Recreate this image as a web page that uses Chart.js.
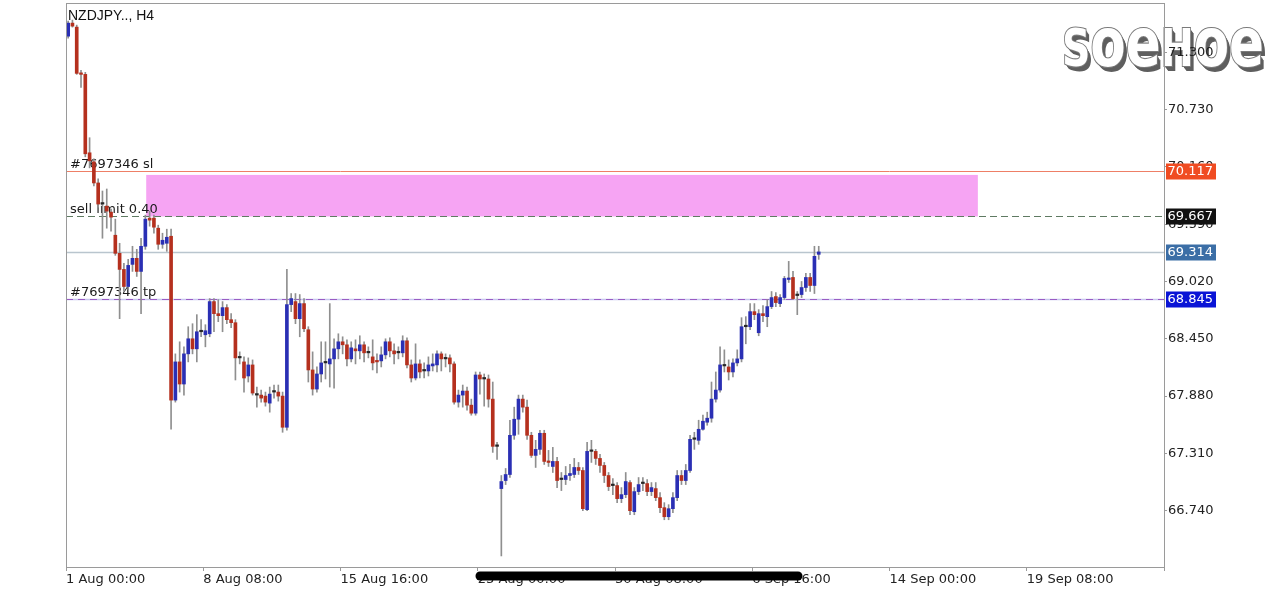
<!DOCTYPE html>
<html>
<head>
<meta charset="utf-8">
<script src="https://cdn.jsdelivr.net/npm/chart.js@4.4.1/dist/chart.umd.min.js"></script>
<style>
  html, body { margin: 0; padding: 0; background: #ffffff; }
  #wrap { position: relative; width: 1280px; height: 591px; }
</style>
</head>
<body>
<div id="wrap"><canvas id="c"></canvas></div>
<script>
// ---------- DATA ----------
const symbolTitle = 'NZDJPY.., H4';
const tickLabels = ['1 Aug 00:00', '8 Aug 08:00', '15 Aug 16:00', '23 Aug 00:00', '30 Aug 08:00', '6 Sep 16:00', '14 Sep 00:00', '19 Sep 08:00', ''];
const priceTicks = [66.740, 67.310, 67.880, 68.450, 69.020, 69.590, 70.160, 70.730, 71.300];

const openP = [
71.46,71.59,71.55,71.09,71.08,70.30,70.21,70.00,69.79,69.77,
69.71,69.48,69.30,69.14,68.97,69.19,69.25,69.12,69.37,69.65,
69.65,69.55,69.39,69.40,69.47,67.84,68.22,68.00,68.30,68.45,
68.35,68.52,68.49,68.50,68.82,68.70,68.68,68.76,68.64,68.61,
68.26,68.22,68.08,68.19,67.89,67.89,67.88,67.81,67.92,67.92,
67.88,67.57,68.79,68.82,68.65,68.80,68.54,68.14,67.95,68.10,
68.21,68.20,68.25,68.35,68.42,68.39,68.25,68.35,68.33,68.39,
68.31,68.27,68.23,68.23,68.29,68.42,68.33,68.31,68.31,68.43,
68.19,68.06,68.20,68.13,68.13,68.18,68.19,68.30,68.25,68.26,
68.20,67.82,67.89,67.93,67.79,67.71,68.09,68.05,68.05,67.85,
67.38,66.96,67.04,67.10,67.49,67.65,67.85,67.77,67.49,67.29,
67.35,67.51,67.23,67.18,67.23,67.05,67.05,67.09,67.10,67.17,
67.14,66.75,67.33,67.33,67.26,67.19,67.09,66.99,66.99,66.86,
66.90,67.02,66.73,66.93,67.01,67.01,66.93,66.96,66.87,66.77,
66.68,66.76,66.87,67.09,67.04,67.14,67.45,67.44,67.55,67.62,
67.66,67.85,67.94,68.18,68.17,68.12,68.21,68.25,68.57,68.57,
68.72,68.51,68.70,68.67,68.77,68.87,68.80,68.86,69.04,69.06,
68.88,68.89,68.96,69.06,68.98,69.29];

const highP = [
71.61,71.62,71.57,71.12,71.10,70.45,70.24,70.04,69.92,69.94,
69.74,69.64,69.40,69.20,69.24,69.37,69.34,69.45,69.68,69.72,
69.68,69.58,69.50,69.54,69.54,68.30,68.42,68.37,68.57,68.60,
68.69,68.64,68.59,68.85,68.85,68.84,68.82,68.79,68.70,68.64,
68.32,68.27,68.26,68.24,67.97,67.94,67.92,67.97,67.99,67.99,
67.92,69.14,68.90,68.90,68.89,68.85,68.57,68.32,68.17,68.42,
68.42,68.80,68.45,68.50,68.47,68.44,68.42,68.44,68.48,68.42,
68.37,68.44,68.30,68.37,68.45,68.46,68.40,68.37,68.48,68.46,
68.24,68.40,68.24,68.21,68.27,68.30,68.33,68.32,68.30,68.29,
68.22,67.94,67.99,67.97,67.85,68.12,68.12,68.10,68.09,68.02,
67.42,67.09,67.16,67.64,67.77,67.89,67.89,67.84,67.52,67.44,
67.54,67.54,67.34,67.37,67.27,67.12,67.18,67.20,67.26,67.22,
67.17,67.42,67.44,67.35,67.30,67.22,67.12,67.06,67.02,66.97,
67.12,67.04,66.97,67.07,67.07,67.05,67.02,67.02,66.92,66.82,
66.80,66.92,67.14,67.14,67.20,67.49,67.52,67.64,67.69,67.72,
68.02,68.12,68.37,68.34,68.24,68.25,68.34,68.66,68.67,68.80,
68.80,68.74,68.78,68.84,68.92,68.91,68.89,69.07,69.22,69.12,
68.92,69.02,69.10,69.10,69.37,69.37];

const lowP = [
71.44,71.55,71.08,70.95,70.26,70.15,69.97,69.76,69.45,69.55,
69.52,69.28,68.65,68.92,68.94,69.12,69.07,68.70,69.34,69.57,
69.50,69.34,69.35,69.32,67.55,67.82,67.92,67.89,68.22,68.30,
68.22,68.47,68.37,68.47,68.52,68.62,68.52,68.60,68.56,68.04,
68.20,67.92,68.02,67.89,67.77,67.82,67.78,67.72,67.86,67.83,
67.52,67.54,68.72,68.60,68.47,68.52,68.02,67.89,67.92,68.02,
68.05,67.97,67.96,68.25,68.30,68.18,68.22,68.20,68.25,68.22,
68.26,68.14,68.11,68.17,68.25,68.27,68.20,68.25,68.27,68.16,
68.02,68.04,68.06,68.06,68.08,68.13,68.12,68.13,68.17,68.12,
67.80,67.77,67.77,67.74,67.69,67.69,67.90,67.78,67.77,67.32,
67.25,66.29,67.00,67.07,67.45,67.50,67.72,67.45,67.27,67.17,
67.30,67.20,67.18,67.12,66.97,66.94,67.00,67.04,67.07,67.10,
66.74,66.74,67.22,67.20,67.12,67.02,66.94,66.90,66.82,66.82,
66.87,66.70,66.70,66.90,66.94,66.89,66.89,66.84,66.72,66.65,
66.65,66.72,66.84,67.00,67.00,67.12,67.35,67.40,67.54,67.59,
67.62,67.82,67.92,68.12,68.04,68.07,68.18,68.22,68.40,68.54,
68.64,68.48,68.62,68.57,68.75,68.77,68.77,68.84,69.01,68.84,
68.69,68.86,68.92,68.92,68.90,69.24];

const closeP = [
71.59,71.56,71.09,71.08,70.29,70.22,70.00,69.79,69.79,69.72,
69.66,69.30,69.14,68.97,69.18,69.25,69.12,69.37,69.64,69.63,
69.56,69.39,69.43,69.46,67.84,68.22,68.00,68.30,68.45,68.35,
68.52,68.52,68.53,68.82,68.70,68.68,68.76,68.64,68.61,68.26,
68.26,68.06,68.19,67.91,67.89,67.86,67.82,67.90,67.92,67.88,
67.57,68.79,68.85,68.65,68.80,68.55,68.14,67.95,68.10,68.21,
68.21,68.25,68.35,68.42,68.39,68.25,68.36,68.33,68.39,68.31,
68.31,68.21,68.22,68.29,68.42,68.33,68.30,68.31,68.43,68.19,
68.06,68.20,68.12,68.13,68.19,68.20,68.30,68.25,68.25,68.20,
67.82,67.89,67.93,67.79,67.71,68.09,68.05,68.05,67.85,67.38,
67.38,67.03,67.10,67.49,67.65,67.85,67.77,67.49,67.29,67.35,
67.51,67.23,67.22,67.23,67.04,67.05,67.09,67.11,67.17,67.14,
66.76,67.33,67.33,67.26,67.19,67.09,66.98,66.99,66.86,66.90,
67.03,66.74,66.93,67.00,67.01,66.93,66.97,66.87,66.77,66.68,
66.76,66.87,67.09,67.04,67.14,67.45,67.45,67.55,67.63,67.66,
67.85,67.94,68.19,68.18,68.12,68.21,68.25,68.57,68.57,68.72,
68.69,68.70,68.68,68.77,68.86,68.81,68.86,69.05,69.05,68.85,
68.88,68.96,69.06,68.98,69.27,69.314];

// order levels: stop loss, sell limit, current bid, take profit
const levelValues = [70.117, 69.667, 69.314, 68.845];
const levelTags = ['70.117', '69.667', '69.314', '68.845'];
const levelNames = ['#7697346 sl', 'sell limit 0.40', '', '#7697346 tp'];
// pending-order zone (bar index range and price range)
const zoneBars = [18.2, 212.1];
const zonePrices = [70.08, 69.667];
const totalBars = 256;

// ---------- BUILD ----------
const wickData = highP.map((h, i) => ({ x: i, y: [lowP[i], h] }));
const bodyData = openP.map((o, i) => ({ x: i, y: [o, closeP[i]] }));
const bodyColors = openP.map((o, i) => closeP[i] > o ? '#2a2fb4' : (closeP[i] < o ? '#b5301e' : '#262626'));

Chart.defaults.font.family = '"DejaVu Sans", sans-serif';
Chart.defaults.color = '#222';

const FRAME = '#9a9a9a';

const overlay = {
  id: 'overlay',
  beforeDraw(chart) {
    const ctx = chart.ctx;
    ctx.save();
    const letters = [['S', 52], ['o', 68], ['e', 68], ['H', 52], ['o', 68], ['e', 68]];
    let widths = letters.map(([ch, sz]) => { ctx.font = 'bold ' + sz + 'px "DejaVu Sans"'; return ctx.measureText(ch).width; });
    const total = widths.reduce((a, b) => a + b, 0);
    const sx = 202 / total;
    ctx.translate(1062, 66);
    ctx.scale(sx, 1);
    let xx = 0;
    letters.forEach(([ch, sz], k) => {
      ctx.font = 'bold ' + sz + 'px "DejaVu Sans"';
      ctx.fillStyle = '#5e5e5e';
      for (let d = 1; d <= 5; d++) ctx.fillText(ch, xx + (d * 0.7) / sx, d);
      ctx.lineWidth = 2.2;
      ctx.strokeStyle = '#7a7a7a';
      ctx.strokeText(ch, xx, 0);
      ctx.fillStyle = '#ffffff';
      ctx.fillText(ch, xx, 0);
      xx += widths[k];
    });
    ctx.restore();
  },
  beforeDatasetsDraw(chart) {
    const { ctx, chartArea: a, scales: { x, y } } = chart;
    ctx.save();
    ctx.beginPath();
    ctx.rect(a.left, a.top, a.right - a.left, a.bottom - a.top);
    ctx.clip();
    const zx1 = x.getPixelForValue(zoneBars[0]), zx2 = x.getPixelForValue(zoneBars[1]);
    const zy1 = y.getPixelForValue(zonePrices[0]), zy2 = y.getPixelForValue(zonePrices[1]);
    ctx.fillStyle = '#f6a4f3';
    ctx.fillRect(zx1, zy1, zx2 - zx1, zy2 - zy1);
    const py = v => Math.round(y.getPixelForValue(v)) + 0.5;
    ctx.strokeStyle = '#ee7f66'; ctx.lineWidth = 1; ctx.setLineDash([]);
    ctx.beginPath(); ctx.moveTo(a.left, py(levelValues[0])); ctx.lineTo(a.right, py(levelValues[0])); ctx.stroke();
    ctx.strokeStyle = '#5f7a62'; ctx.lineWidth = 1.2; ctx.setLineDash([7, 4]);
    ctx.beginPath(); ctx.moveTo(a.left, py(levelValues[1])); ctx.lineTo(a.right, py(levelValues[1])); ctx.stroke();
    ctx.strokeStyle = '#b9c5ce'; ctx.lineWidth = 1.6; ctx.setLineDash([]);
    ctx.beginPath(); ctx.moveTo(a.left, py(levelValues[2])); ctx.lineTo(a.right, py(levelValues[2])); ctx.stroke();
    ctx.strokeStyle = '#c6c6ee'; ctx.lineWidth = 1.5; ctx.setLineDash([]);
    ctx.beginPath(); ctx.moveTo(a.left, py(levelValues[3])); ctx.lineTo(a.right, py(levelValues[3])); ctx.stroke();
    ctx.strokeStyle = '#9a5cc4'; ctx.lineWidth = 1.2; ctx.setLineDash([7, 5]);
    ctx.beginPath(); ctx.moveTo(a.left, py(levelValues[3])); ctx.lineTo(a.right, py(levelValues[3])); ctx.stroke();
    ctx.setLineDash([]);
    ctx.fillStyle = '#1a1a1a';
    ctx.font = '13px "DejaVu Sans"';
    ctx.textAlign = 'left'; ctx.textBaseline = 'alphabetic';
    levelNames.forEach((n, k) => { if (n) ctx.fillText(n, a.left + 4, py(levelValues[k]) - 3.5); });
    ctx.restore();
  },
  afterDraw(chart) {
    const { ctx, chartArea: a, scales: { y } } = chart;
    ctx.save();
    ctx.strokeStyle = FRAME; ctx.lineWidth = 1;
    ctx.strokeRect(Math.round(a.left) + 0.5, Math.round(a.top) - 0.5, Math.round(a.right - a.left), Math.round(a.bottom - a.top) + 1);
    ctx.fillStyle = '#111';
    ctx.font = '14px "Liberation Sans"';
    ctx.textAlign = 'left'; ctx.textBaseline = 'alphabetic';
    ctx.fillText(symbolTitle, a.left + 2, 19.5);
    const tagColors = ['#f04c22', '#111111', '#3b6ea6', '#0a14d6'];
    ctx.font = '13px "DejaVu Sans"';
    ctx.textBaseline = 'middle';
    levelValues.forEach((v, k) => {
      const cy = Math.round(y.getPixelForValue(v)) + 0.5;
      ctx.fillStyle = tagColors[k];
      ctx.fillRect(a.right + 2, cy - 8, 50, 16);
      ctx.fillStyle = '#ffffff';
      ctx.fillText(levelTags[k], a.right + 3.5, cy + 0.5);
    });
    ctx.strokeStyle = '#000'; ctx.lineCap = 'round'; ctx.lineWidth = 9;
    ctx.beginPath(); ctx.moveTo(480, 576); ctx.lineTo(798, 576); ctx.stroke();
    ctx.restore();
  }
};

new Chart(document.getElementById('c'), {
  type: 'bar',
  data: {
    datasets: [
      { label: 'body', data: bodyData, backgroundColor: bodyColors, borderWidth: 0, barThickness: 3, minBarLength: 1.5, grouped: false, order: 1 },
      { label: 'wick', data: wickData, backgroundColor: '#8f8f8f', borderWidth: 0, barThickness: 1, grouped: false, order: 2 }
    ]
  },
  options: {
    responsive: true,
    maintainAspectRatio: false,
    animation: false,
    events: [],
    layout: { padding: { left: 66, top: 4, right: 0, bottom: 0 } },
    plugins: { legend: { display: false }, tooltip: { enabled: false }, title: { display: false } },
    scales: {
      x: {
        type: 'linear',
        offset: false,
        min: -0.5,
        max: totalBars - 0.5,
        afterBuildTicks(s) { s.ticks = tickLabels.map((t, k) => ({ value: -0.5 + 32 * k })); },
        afterFit(s) { s.height = 24; s.paddingLeft = 0; s.paddingRight = 0; },
        grid: { drawOnChartArea: false, offset: false, tickLength: 4, color: FRAME },
        border: { display: true, color: FRAME },
        ticks: {
          autoSkip: false, maxRotation: 0, align: 'start', padding: 1,
          font: { size: 13 }, color: '#222',
          callback(v, k) { return tickLabels[k]; }
        }
      },
      y: {
        position: 'right',
        min: 66.18,
        max: 71.78,
        beginAtZero: false,
        afterBuildTicks(s) { s.ticks = priceTicks.map(v => ({ value: v })); },
        afterFit(s) { s.width = 116; s.paddingTop = 0; s.paddingBottom = 0; },
        grid: { drawOnChartArea: false, tickLength: 3, color: FRAME },
        border: { display: true, color: FRAME },
        ticks: { padding: 1, font: { size: 13 }, color: '#222', callback(v) { return Number(v).toFixed(3); } }
      }
    }
  },
  plugins: [overlay]
});
</script>
</body>
</html>
